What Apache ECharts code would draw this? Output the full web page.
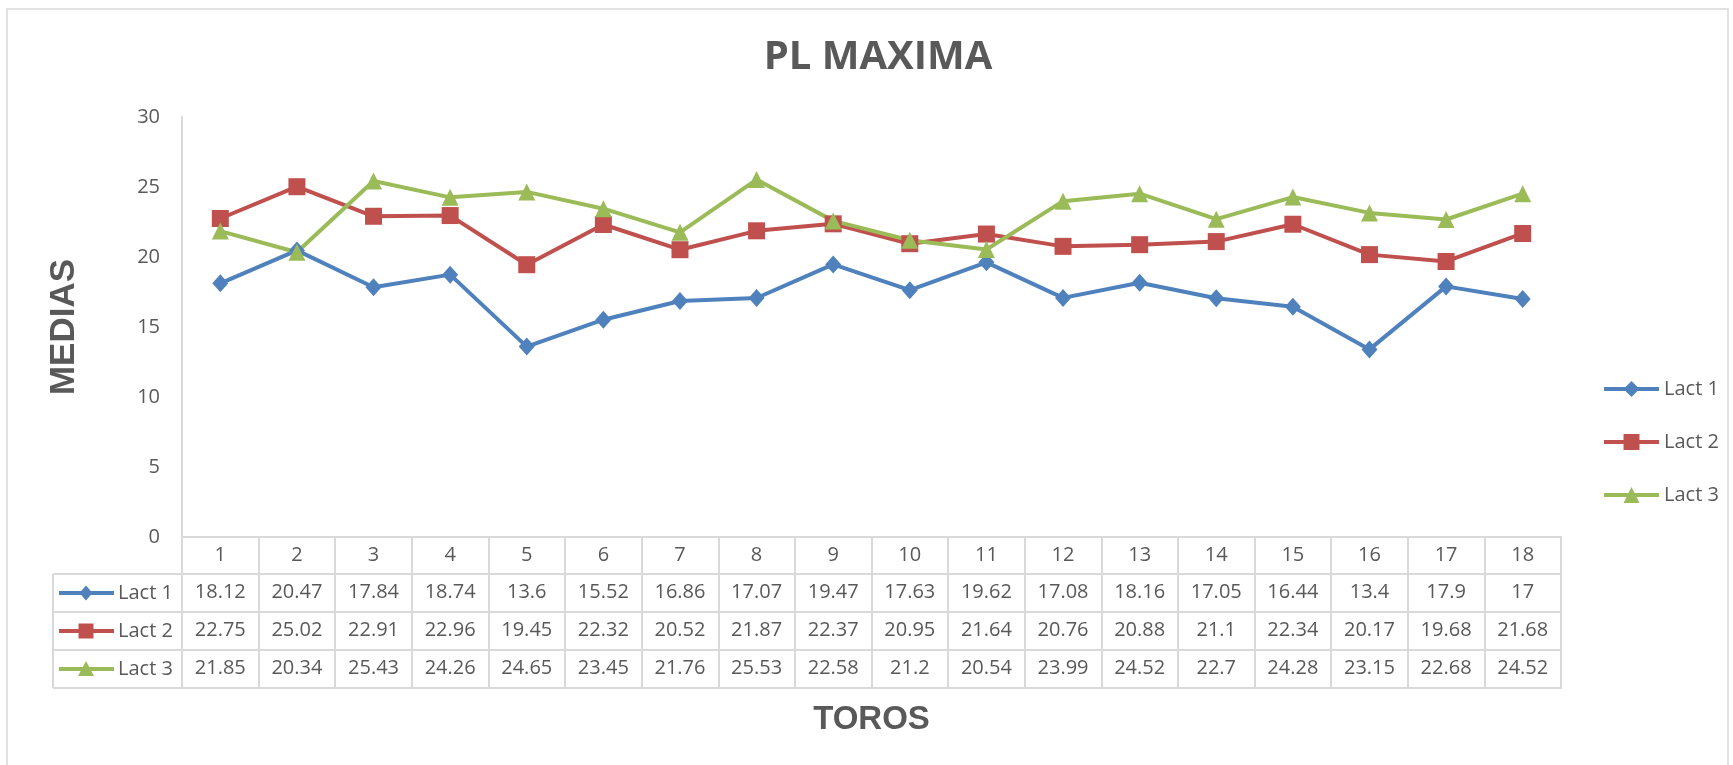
<!DOCTYPE html>
<html>
<head>
<meta charset="utf-8">
<script src="https://cdn.jsdelivr.net/npm/echarts@6/dist/echarts.min.js"></script>
<style>html,body{margin:0;padding:0;background:#fff}#c{width:1733px;height:765px}</style>
</head>
<body>
<div id="c"></div>
<script>
// ---- data ----
const toros = ['1','2','3','4','5','6','7','8','9','10','11','12','13','14','15','16','17','18'];
const seriesNames = ['Lact 1', 'Lact 2', 'Lact 3'];
const lact1 = [18.12, 20.47, 17.84, 18.74, 13.6, 15.52, 16.86, 17.07, 19.47, 17.63, 19.62, 17.08, 18.16, 17.05, 16.44, 13.4, 17.9, 17];
const lact2 = [22.75, 25.02, 22.91, 22.96, 19.45, 22.32, 20.52, 21.87, 22.37, 20.95, 21.64, 20.76, 20.88, 21.1, 22.34, 20.17, 19.68, 21.68];
const lact3 = [21.85, 20.34, 25.43, 24.26, 24.65, 23.45, 21.76, 25.53, 22.58, 21.2, 20.54, 23.99, 24.52, 22.7, 24.28, 23.15, 22.68, 24.52];
const yMin = 0, yMax = 30, yStep = 5;
const titleText = 'PL MAXIMA';
const xTitle = 'TOROS';
const yTitle = 'MEDIAS';

// ---- styles / layout ----
const values = [lact1, lact2, lact3];
const colors = ['#4F81BD', '#C0504D', '#9BBB59'];
const symbols = ['diamond', 'rect', 'triangle'];
const symbolSizes = [[16, 18], 17, 17];
const TXT = '#595959', GRIDC = '#D9D9D9', FONT = "'Open Sans', sans-serif";
const W = 1733, H = 765;
const plotLeft = 182, plotRight = 1561, plotTop = 117, plotBottom = 537;
const headerH = 37, rowH = 38;
const tableLeft = 53;

const chart = echarts.init(document.getElementById('c'), null, {renderer: 'canvas'});

const baseAxis = (offset, tickLen) => ({
  type: 'category', data: toros, position: 'bottom', offset: offset, boundaryGap: true,
  axisLine: {show: true, onZero: false, lineStyle: {color: GRIDC, width: 2}},
  axisTick: {show: tickLen > 0, interval: 0, length: tickLen, lineStyle: {color: GRIDC, width: 2}},
  axisLabel: {show: false},
  splitLine: {show: false}
});

const xAxes = [];
const ax0 = baseAxis(0, headerH);
ax0.axisLabel = {show: true, interval: 0, margin: 8, color: TXT, fontSize: 20, fontFamily: FONT};
ax0.name = xTitle; ax0.nameLocation = 'middle'; ax0.nameGap = 166;
ax0.nameTextStyle = {fontFamily: 'Liberation Sans', fontWeight: 'bold', fontSize: 33, color: TXT};
xAxes.push(ax0);
values.forEach((arr, k) => {
  const a = baseAxis(headerH + rowH * k, rowH);
  a.axisLabel = {show: true, interval: 0, margin: 8, color: TXT, fontSize: 20, fontFamily: FONT,
    formatter: (v, i) => String(arr[i])};
  xAxes.push(a);
});
xAxes.push(baseAxis(headerH + rowH * 3, 0));

// left column of the data table (series keys)
const graphics = [];
graphics.push({type: 'rect', silent: true, z: -10,
  shape: {x: 7, y: 9, width: 1721, height: 800},
  style: {fill: 'none', stroke: GRIDC, lineWidth: 1.5}});
const rowTops = [0, 1, 2, 3].map(i => plotBottom + headerH + rowH * i);
rowTops.forEach(y => graphics.push({type: 'line', silent: true,
  shape: {x1: tableLeft, y1: y, x2: plotLeft, y2: y}, style: {stroke: GRIDC, lineWidth: 2}}));
graphics.push({type: 'line', silent: true,
  shape: {x1: tableLeft, y1: rowTops[0], x2: tableLeft, y2: rowTops[3]}, style: {stroke: GRIDC, lineWidth: 2}});
seriesNames.forEach((nm, k) => {
  const cy = (rowTops[k] + rowTops[k + 1]) / 2;
  const cx = 86;
  graphics.push({type: 'line', silent: true, shape: {x1: 59, y1: cy, x2: 114, y2: cy},
    style: {stroke: colors[k], lineWidth: 4}});
  let m;
  if (symbols[k] === 'diamond') m = {type: 'polygon', shape: {points: [[cx, cy - 7.5], [cx + 6.5, cy], [cx, cy + 7.5], [cx - 6.5, cy]]}};
  else if (symbols[k] === 'rect') m = {type: 'rect', shape: {x: cx - 7.5, y: cy - 7.5, width: 15, height: 15}};
  else m = {type: 'polygon', shape: {points: [[cx, cy - 8], [cx + 8, cy + 7], [cx - 8, cy + 7]]}};
  m.silent = true; m.style = {fill: colors[k]};
  graphics.push(m);
  graphics.push({type: 'text', silent: true, x: 118, y: cy,
    style: {text: nm, fill: TXT, fontSize: 20, fontFamily: FONT, verticalAlign: 'middle', align: 'left'}});
});

const option = {
  backgroundColor: '#fff',
  animation: false,
  title: {text: titleText, left: 873, top: 33, textAlign: 'center',
    textStyle: {fontFamily: FONT, fontSize: 40, fontWeight: 'bold', color: TXT}},
  legend: {orient: 'vertical', left: 1597, top: 374, itemWidth: 55, itemHeight: 20, itemGap: 33,
    data: seriesNames,
    lineStyle: {width: 4},
    textStyle: {color: TXT, fontSize: 20, fontFamily: FONT, lineHeight: 20}},
  grid: {left: plotLeft, right: W - plotRight, top: plotTop, bottom: H - plotBottom, containLabel: false},
  xAxis: xAxes,
  yAxis: {type: 'value', min: yMin, max: yMax, interval: yStep,
    axisLine: {show: true, lineStyle: {color: GRIDC, width: 2}},
    axisTick: {show: false}, splitLine: {show: false},
    axisLabel: {color: TXT, fontSize: 20, fontFamily: FONT, margin: 22},
    name: yTitle, nameLocation: 'middle', nameRotate: 90, nameGap: 100,
    nameTextStyle: {fontFamily: 'Liberation Sans', fontWeight: 'bold', fontSize: 35, color: TXT}},
  series: seriesNames.map((nm, k) => ({
    name: nm, type: 'line', data: values[k], xAxisIndex: 0, yAxisIndex: 0,
    symbol: symbols[k], symbolSize: symbolSizes[k], showSymbol: true,
    lineStyle: {color: colors[k], width: 4}, itemStyle: {color: colors[k]}
  })),
  graphic: graphics
};
chart.setOption(option);
</script>
</body>
</html>
